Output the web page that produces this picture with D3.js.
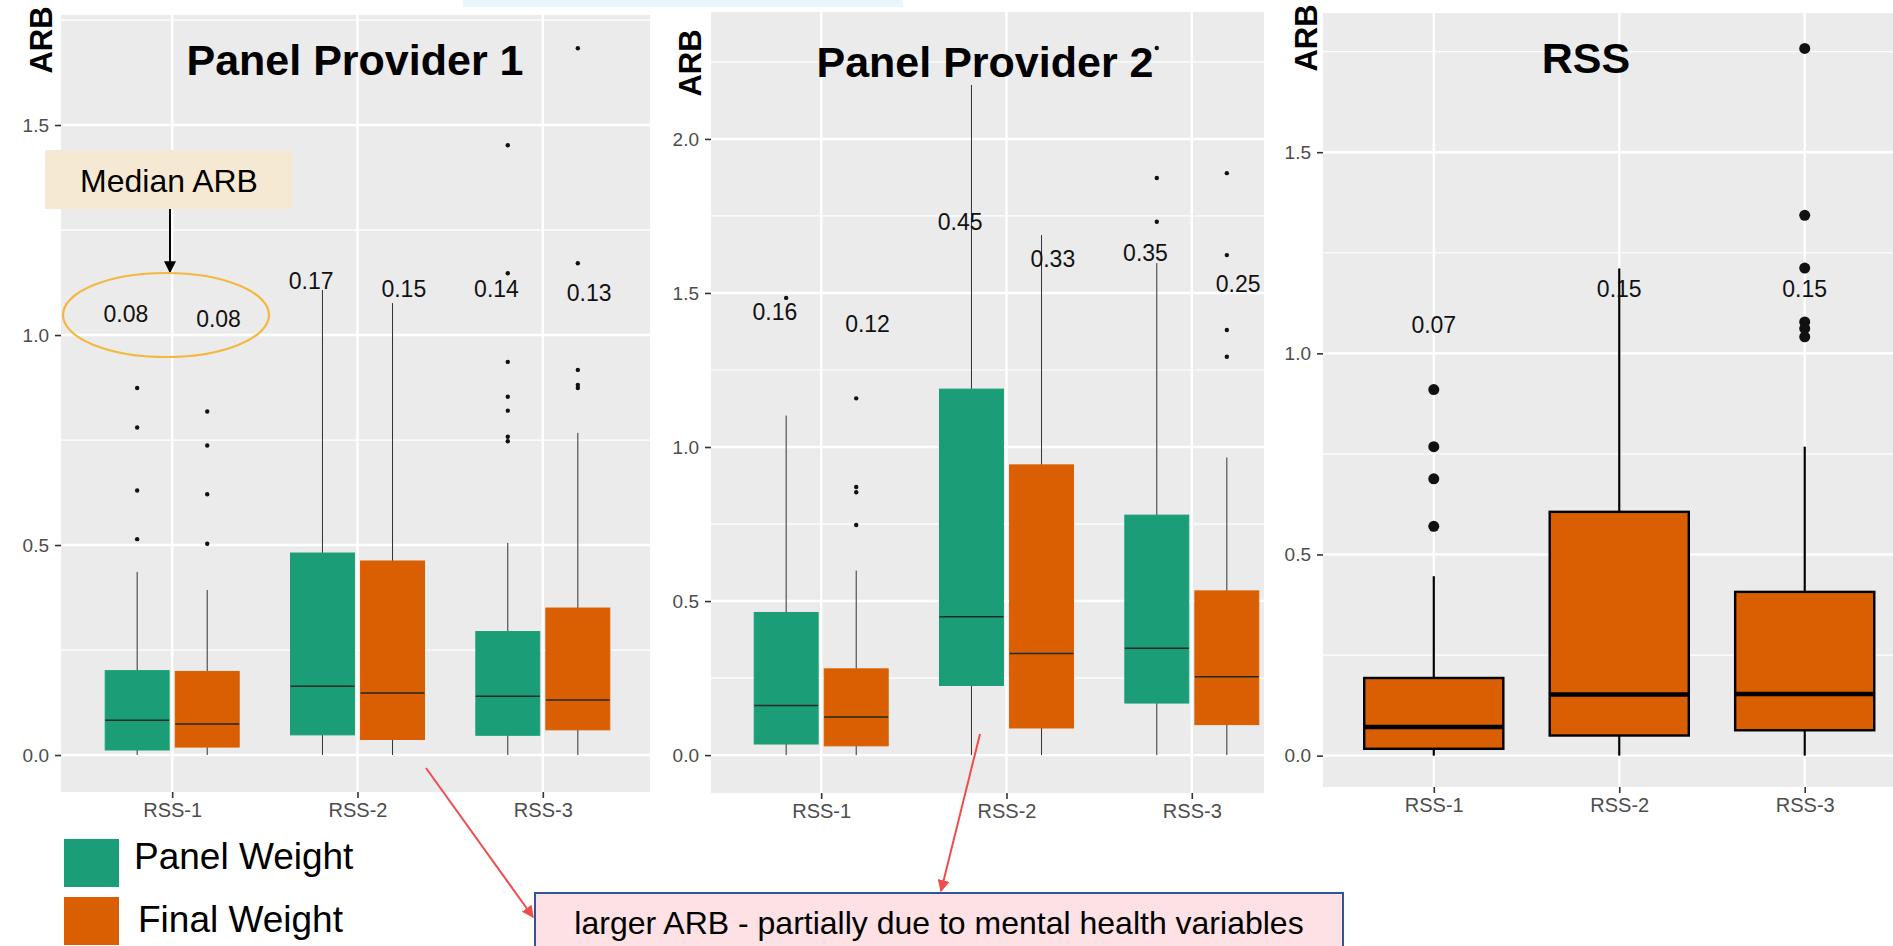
<!DOCTYPE html>
<html>
<head>
<meta charset="utf-8">
<script src="https://cdn.jsdelivr.net/npm/d3@7"></script>
<style>
  body { margin: 0; background: #fff; }
  svg { display: block; font-family: "Liberation Sans", Arial, sans-serif; }
</style>
</head>
<body>
<div id="chart"></div>
<script>
const categories = ["RSS-1", "RSS-2", "RSS-3"];
const seriesNames = ["Panel Weight", "Final Weight"];

// box stats per category: [lower whisker, q1, median, q3, upper whisker]
const pp1PanelBox = [[0, 0.012, 0.083, 0.201, 0.436], [0, 0.048, 0.164, 0.481, 1.107], [0, 0.047, 0.14, 0.294, 0.505]];
const pp1FinalBox = [[0, 0.019, 0.074, 0.199, 0.393], [0, 0.037, 0.148, 0.462, 1.076], [0, 0.06, 0.131, 0.35, 0.767]];
const pp1PanelOut = [[0.874, 0.78, 0.63, 0.514], [], [1.452, 1.147, 0.936, 0.853, 0.82, 0.758, 0.747]];
const pp1FinalOut = [[0.818, 0.737, 0.621, 0.503], [], [1.683, 1.171, 0.917, 0.881, 0.874]];
const pp1PanelLabels = ["0.08", "0.17", "0.14"];
const pp1FinalLabels = ["0.08", "0.15", "0.13"];
const pp1PanelLabelY = [1.05, 1.13, 1.11];
const pp1FinalLabelY = [1.04, 1.11, 1.10];
const pp1Ticks = [0, 0.5, 1.0, 1.5];

const pp2PanelBox = [[0, 0.036, 0.161, 0.463, 1.102], [0, 0.226, 0.449, 1.188, 2.175], [0, 0.169, 0.347, 0.779, 1.597]];
const pp2FinalBox = [[0, 0.03, 0.124, 0.28, 0.599], [0, 0.088, 0.33, 0.942, 1.688], [0, 0.099, 0.254, 0.533, 0.966]];
const pp2PanelOut = [[1.484], [], [2.295, 1.873, 1.731]];
const pp2FinalOut = [[1.158, 0.87, 0.853, 0.747], [], [1.889, 1.623, 1.38, 1.293]];
const pp2PanelLabels = ["0.16", "0.45", "0.35"];
const pp2FinalLabels = ["0.12", "0.33", "0.25"];
const pp2PanelLabelY = [1.44, 1.73, 1.63];
const pp2FinalLabelY = [1.40, 1.61, 1.53];
const pp2Ticks = [0, 0.5, 1.0, 1.5, 2.0];

const rssBox = [[0, 0.017, 0.071, 0.193, 0.446], [0, 0.05, 0.152, 0.606, 1.211], [0, 0.063, 0.153, 0.407, 0.768]];
const rssOut = [[0.91, 0.768, 0.688, 0.57], [], [1.758, 1.343, 1.212, 1.078, 1.062, 1.041]];
const rssLabels = ["0.07", "0.15", "0.15"];
const rssLabelY = [1.07, 1.16, 1.16];
const rssTicks = [0, 0.5, 1.0, 1.5];

const green = "#1b9e77";
const orange = "#d95f02";

const W = 1893, H = 946;
const svg = d3.select("#chart").append("svg").attr("width", W).attr("height", H);

// little light-blue strip at the very top
svg.append("rect").attr("x", 463).attr("y", 0).attr("width", 440).attr("height", 7).attr("fill", "#e8f5fb");

const panels = [
  {
    title: "Panel Provider 1", titleX: 355, titleY: 75,
    arbX: 52, arbY: 40,
    bg: [61, 650, 15, 792], xRange: [61, 654], domain: [-0.088, 1.762], ticks: pp1Ticks,
    thick: false,
    series: [
      { stats: pp1PanelBox, out: pp1PanelOut, labels: pp1PanelLabels, labelY: pp1PanelLabelY, color: green },
      { stats: pp1FinalBox, out: pp1FinalOut, labels: pp1FinalLabels, labelY: pp1FinalLabelY, color: orange },
    ],
  },
  {
    title: "Panel Provider 2", titleX: 985, titleY: 77,
    arbX: 701, arbY: 63,
    bg: [711, 1264, 12, 793], xRange: [710, 1303], domain: [-0.123, 2.412], ticks: pp2Ticks,
    thick: false,
    series: [
      { stats: pp2PanelBox, out: pp2PanelOut, labels: pp2PanelLabels, labelY: pp2PanelLabelY, color: green },
      { stats: pp2FinalBox, out: pp2FinalOut, labels: pp2FinalLabels, labelY: pp2FinalLabelY, color: orange },
    ],
  },
  {
    title: "RSS", titleX: 1586, titleY: 73,
    arbX: 1317, arbY: 38,
    bg: [1323, 1893, 13, 787], xRange: [1322.5, 1916], domain: [-0.078, 1.846], ticks: rssTicks,
    thick: true,
    series: [
      { stats: rssBox, out: rssOut, labels: rssLabels, labelY: rssLabelY, color: orange },
    ],
  },
];

panels.forEach(function (p) {
  const [x0, x1, y0, y1] = p.bg;
  const g = svg.append("g");
  const y = d3.scaleLinear().domain(p.domain).range([y1, y0]);
  const x = d3.scalePoint().domain(categories).range(p.xRange).padding(0.6);
  const step = x.step();

  g.append("rect").attr("x", x0).attr("y", y0).attr("width", x1 - x0).attr("height", y1 - y0).attr("fill", "#ebebeb");

  // grid
  const minor = [];
  for (let i = 0; i < p.ticks.length; i++) {
    const m = p.ticks[i] + 0.25;
    if (m < p.domain[1]) minor.push(m);
  }
  g.selectAll(".minor").data(minor).join("line")
    .attr("x1", x0).attr("x2", x1).attr("y1", d => y(d)).attr("y2", d => y(d))
    .attr("stroke", "#fff").attr("stroke-width", 1.2);
  g.selectAll(".major").data(p.ticks).join("line")
    .attr("x1", x0).attr("x2", x1).attr("y1", d => y(d)).attr("y2", d => y(d))
    .attr("stroke", "#fff").attr("stroke-width", 2.4);
  g.selectAll(".vgrid").data(categories).join("line")
    .attr("x1", d => x(d)).attr("x2", d => x(d)).attr("y1", y0).attr("y2", y1)
    .attr("stroke", "#fff").attr("stroke-width", 2.4);

  // axes
  const ya = g.append("g").attr("transform", "translate(" + x0 + ",0)")
    .call(d3.axisLeft(y).tickValues(p.ticks).tickFormat(d3.format(".1f")).tickSize(6).tickPadding(6));
  const xa = g.append("g").attr("transform", "translate(0," + y1 + ")")
    .call(d3.axisBottom(x).tickSize(6).tickPadding(5));
  [ya, xa].forEach(function (a) {
    a.select(".domain").remove();
    a.selectAll("line").attr("stroke", "#333").attr("stroke-width", 1.6);
    a.selectAll("text").attr("fill", "#4d4d4d").attr("font-size", 19)
      .attr("font-family", "'Liberation Sans', Arial, sans-serif");
  });
  xa.selectAll("text").attr("font-size", 20);

  const nS = p.series.length;
  const boxW = nS === 1 ? step * 0.75 : step * 0.345;

  p.series.forEach(function (s, si) {
    const off = nS === 1 ? 0 : (si - 0.5) * step * 0.378;
    const labOff = nS === 1 ? 0 : (si - 0.5) * step * 0.5;
    const sg = g.append("g");
    const rows = categories.map((c, i) => ({ c: c, st: s.stats[i], out: s.out[i], lab: s.labels[i], ly: s.labelY[i] }));
    const lineCol = p.thick ? "#000" : "#333";
    const lineW = p.thick ? 2.2 : 1;

    // whiskers
    sg.selectAll(".wu").data(rows).join("line")
      .attr("x1", d => x(d.c) + off).attr("x2", d => x(d.c) + off)
      .attr("y1", d => y(d.st[3])).attr("y2", d => y(d.st[4]))
      .attr("stroke", lineCol).attr("stroke-width", lineW);
    sg.selectAll(".wl").data(rows).join("line")
      .attr("x1", d => x(d.c) + off).attr("x2", d => x(d.c) + off)
      .attr("y1", d => y(d.st[1])).attr("y2", d => y(d.st[0]))
      .attr("stroke", lineCol).attr("stroke-width", lineW);

    // boxes
    sg.selectAll(".box").data(rows).join("rect")
      .attr("x", d => x(d.c) + off - boxW / 2).attr("width", boxW)
      .attr("y", d => y(d.st[3])).attr("height", d => y(d.st[1]) - y(d.st[3]))
      .attr("fill", s.color)
      .attr("stroke", p.thick ? "#000" : s.color)
      .attr("stroke-width", p.thick ? 2.4 : 1);

    // medians
    sg.selectAll(".med").data(rows).join("line")
      .attr("x1", d => x(d.c) + off - boxW / 2).attr("x2", d => x(d.c) + off + boxW / 2)
      .attr("y1", d => y(d.st[2])).attr("y2", d => y(d.st[2]))
      .attr("stroke", p.thick ? "#000" : "#1f2a22").attr("stroke-width", p.thick ? 4.5 : 1.5);

    // outliers
    const pts = [];
    rows.forEach(d => d.out.forEach(v => pts.push({ c: d.c, v: v })));
    sg.selectAll(".out").data(pts).join("circle")
      .attr("cx", d => x(d.c) + off).attr("cy", d => y(d.v))
      .attr("r", p.thick ? 5.5 : 2.2).attr("fill", "#111");

    // median labels
    sg.selectAll(".lab").data(rows).join("text")
      .attr("x", d => x(d.c) + labOff).attr("y", d => y(d.ly)).attr("dy", "0.36em")
      .attr("text-anchor", "middle").attr("font-size", 23).attr("fill", "#111")
      .text(d => d.lab);
  });

  // titles
  g.append("text").attr("x", p.titleX).attr("y", p.titleY)
    .attr("text-anchor", "middle").attr("font-size", 43).attr("font-weight", "bold")
    .attr("font-family", "'Liberation Sans', Arial, sans-serif").text(p.title);
  g.append("text").attr("transform", "translate(" + p.arbX + "," + p.arbY + ") rotate(-90)")
    .attr("text-anchor", "middle").attr("font-size", 31).attr("font-weight", "bold")
    .text("ARB");
});

// arrow markers
const defs = svg.append("defs");
[["arrBlack", "#000"], ["arrRed", "#ef4c4c"]].forEach(function (m) {
  defs.append("marker").attr("id", m[0]).attr("viewBox", "0 0 10 10")
    .attr("refX", 9).attr("refY", 5).attr("markerWidth", 6).attr("markerHeight", 6)
    .attr("markerUnits", "strokeWidth").attr("orient", "auto")
    .append("path").attr("d", "M0,0 L10,5 L0,10 z").attr("fill", m[1]);
});

// "Median ARB" call-out
svg.append("rect").attr("x", 45).attr("y", 150).attr("width", 248).attr("height", 59).attr("fill", "#f6e9d3");
svg.append("text").attr("x", 169).attr("y", 192).attr("text-anchor", "middle")
  .attr("font-size", 32).attr("fill", "#000").text("Median ARB");
svg.append("line").attr("x1", 170).attr("y1", 209).attr("x2", 170).attr("y2", 272)
  .attr("stroke", "#000").attr("stroke-width", 2).attr("marker-end", "url(#arrBlack)");
svg.append("ellipse").attr("cx", 166).attr("cy", 315).attr("rx", 103).attr("ry", 42)
  .attr("fill", "none").attr("stroke", "#f4b73f").attr("stroke-width", 2.2);

// legend
const legend = svg.append("g");
legend.selectAll("rect").data(seriesNames).join("rect")
  .attr("x", 64).attr("y", (d, i) => 839 + i * 58).attr("width", 55).attr("height", 48)
  .attr("fill", (d, i) => (i === 0 ? green : orange));
legend.selectAll("text").data(seriesNames).join("text")
  .attr("x", (d, i) => 134 + i * 4).attr("y", (d, i) => 869 + i * 63)
  .attr("font-size", 37).attr("fill", "#000").text(d => d);

// note box with red arrows
svg.append("line").attr("x1", 426).attr("y1", 768).attr("x2", 533).attr("y2", 917)
  .attr("stroke", "#ef4c4c").attr("stroke-width", 2).attr("marker-end", "url(#arrRed)");
svg.append("line").attr("x1", 980).attr("y1", 734).attr("x2", 941).attr("y2", 891)
  .attr("stroke", "#ef4c4c").attr("stroke-width", 2).attr("marker-end", "url(#arrRed)");
svg.append("rect").attr("x", 535).attr("y", 893).attr("width", 808).attr("height", 62)
  .attr("fill", "#fde1e4").attr("stroke", "#2f5597").attr("stroke-width", 2);
svg.append("text").attr("x", 939).attr("y", 934).attr("text-anchor", "middle")
  .attr("font-size", 32).attr("fill", "#000")
  .text("larger ARB - partially due to mental health variables");
</script>
</body>
</html>
